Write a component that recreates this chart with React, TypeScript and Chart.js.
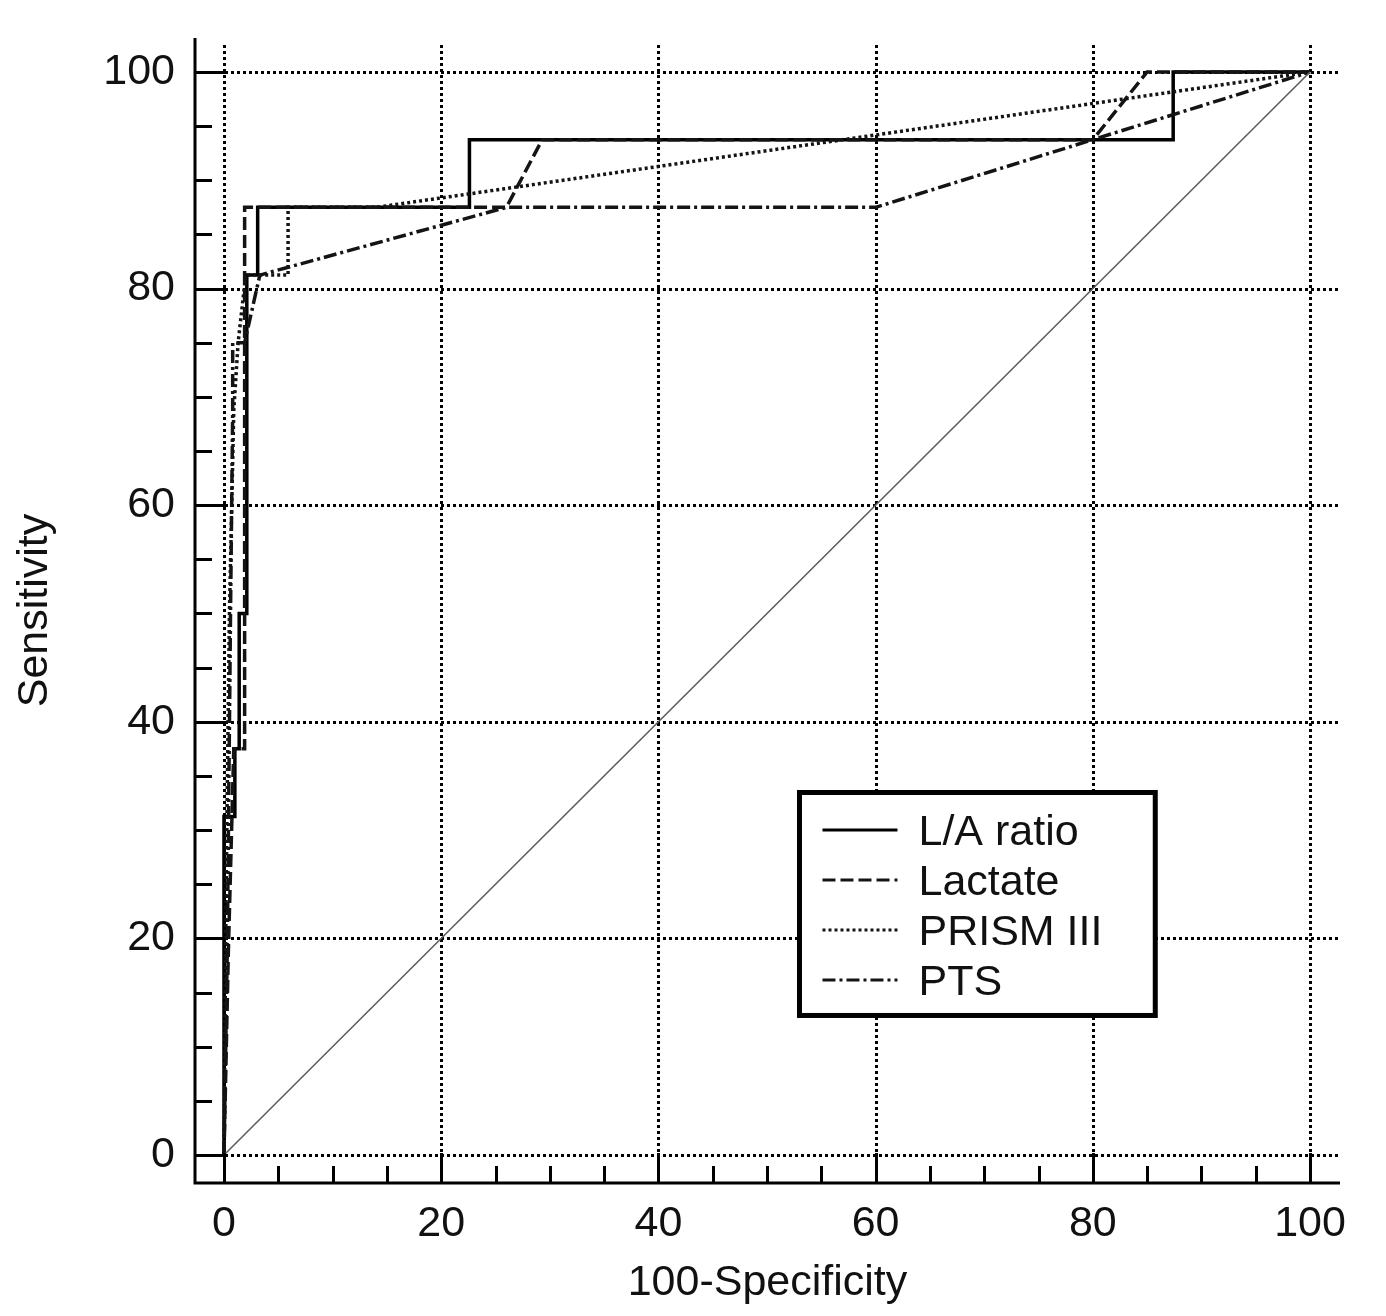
import React, { useEffect, useRef } from "react";
import { Chart, registerables } from "chart.js";

Chart.register(...registerables);

// ---- data (100-Specificity, Sensitivity) ----
const seriesNames = ["L/A ratio", "Lactate", "PRISM III", "PTS"];

const laX = [0, 0, 1.0, 1.0, 1.4, 1.4, 2.1, 2.1, 3.1, 3.1, 22.6, 22.6, 87.4, 87.4, 100];
const laY = [0, 31.25, 31.25, 37.5, 37.5, 50, 50, 81.25, 81.25, 87.5, 87.5, 93.75, 93.75, 100, 100];

const lacX = [0, 0.4, 0.9, 1.9, 1.9, 26, 29.3, 80, 85, 100];
const lacY = [0, 18.75, 37.5, 37.5, 87.5, 87.5, 93.75, 93.75, 100, 100];

const prismX = [0, 0.2, 0.5, 0.9, 1.3, 2.0, 5.9, 5.9, 14, 100];
const prismY = [0, 25, 50, 68.75, 75, 81.25, 81.25, 87.5, 87.5, 100];

const ptsX = [0, 0.3, 0.6, 0.8, 0.8, 1.9, 3.3, 26, 60, 80, 100];
const ptsY = [0, 18.75, 50, 68.75, 75, 75, 81.25, 87.5, 87.5, 93.75, 100];

const refX = [0, 100];
const refY = [0, 100];

const majorTicks = [0, 20, 40, 60, 80, 100];
const minorTicks = [0, 5, 10, 15, 20, 25, 30, 35, 40, 45, 50, 55, 60, 65, 70, 75, 80, 85, 90, 95, 100];

const xTitle = "100-Specificity";
const yTitle = "Sensitivity";

const FONT = '"Liberation Sans", Arial, Helvetica, sans-serif';

const styles = [
  { color: "#000000", dash: [] as number[], width: 3.5 },
  { color: "#141414", dash: [13, 5], width: 3.5 },
  { color: "#141414", dash: [3, 3], width: 3.5 },
  { color: "#141414", dash: [13, 4, 3, 4], width: 3.5 },
];

const toPts = (xs: number[], ys: number[]) => xs.map((x, i) => ({ x, y: ys[i] }));

export default function App() {
  const ref = useRef<HTMLCanvasElement>(null);

  useEffect(() => {
    const canvas = ref.current;
    if (!canvas) return;

    const axesPlugin = {
      id: "rocAxes",
      beforeDatasetsDraw(chart: any) {
        const { ctx, chartArea } = chart;
        const xs = chart.scales.x;
        const ys = chart.scales.y;
        ctx.save();
        ctx.strokeStyle = "#000";
        ctx.lineWidth = 3;
        ctx.setLineDash([3, 3]);
        for (const v of majorTicks) {
          const px = Math.round(xs.getPixelForValue(v)) + 0.5;
          ctx.beginPath();
          ctx.moveTo(px, chartArea.top + 7);
          ctx.lineTo(px, chartArea.bottom);
          ctx.stroke();
          const py = Math.round(ys.getPixelForValue(v)) + 0.5;
          ctx.beginPath();
          ctx.moveTo(chartArea.left, py);
          ctx.lineTo(chartArea.right, py);
          ctx.stroke();
        }
        ctx.restore();
      },
      afterDatasetsDraw(chart: any) {
        const { ctx, chartArea } = chart;
        const xs = chart.scales.x;
        const ys = chart.scales.y;
        ctx.save();
        ctx.strokeStyle = "#000";
        ctx.setLineDash([]);
        ctx.lineWidth = 3;
        // spines
        ctx.beginPath();
        ctx.moveTo(chartArea.left, chartArea.top);
        ctx.lineTo(chartArea.left, chartArea.bottom);
        ctx.lineTo(chartArea.right, chartArea.bottom);
        ctx.stroke();
        // ticks (inward)
        for (const v of minorTicks) {
          const len = majorTicks.includes(v) ? 30 : 17;
          const py = Math.round(ys.getPixelForValue(v)) + 0.5;
          ctx.beginPath();
          ctx.moveTo(chartArea.left, py);
          ctx.lineTo(chartArea.left + len, py);
          ctx.stroke();
          const px = Math.round(xs.getPixelForValue(v)) + 0.5;
          ctx.beginPath();
          ctx.moveTo(px, chartArea.bottom);
          ctx.lineTo(px, chartArea.bottom - len);
          ctx.stroke();
        }
        // legend
        const bx0 = xs.getPixelForValue(52.99);
        const bx1 = xs.getPixelForValue(85.75);
        const by0 = ys.getPixelForValue(33.47);
        const by1 = ys.getPixelForValue(12.88);
        ctx.fillStyle = "#fff";
        ctx.fillRect(bx0, by0, bx1 - bx0, by1 - by0);
        ctx.lineWidth = 5;
        ctx.strokeRect(bx0, by0, bx1 - bx0, by1 - by0);
        ctx.font = `43px ${FONT}`;
        ctx.textBaseline = "alphabetic";
        ctx.textAlign = "left";
        ctx.fillStyle = "#111";
        seriesNames.forEach((name, i) => {
          const yLine = by0 + 37.5 + i * 50;
          const st = styles[i];
          ctx.strokeStyle = st.color;
          ctx.lineWidth = 3;
          ctx.setLineDash(st.dash);
          ctx.beginPath();
          ctx.moveTo(bx0 + 23, yLine);
          ctx.lineTo(bx0 + 98, yLine);
          ctx.stroke();
          ctx.setLineDash([]);
          ctx.fillText(name, bx0 + 119, yLine + 15);
        });
        ctx.restore();
      },
    };

    const mk = (i: number, xs: number[], ys: number[]) => ({
      label: seriesNames[i],
      data: toPts(xs, ys),
      showLine: true,
      pointRadius: 0,
      borderColor: styles[i].color,
      borderWidth: styles[i].width,
      borderDash: styles[i].dash,
      tension: 0,
      fill: false,
    });

    const chart = new Chart(canvas, {
      type: "scatter",
      data: {
        datasets: [
          {
            label: "reference",
            data: toPts(refX, refY),
            showLine: true,
            pointRadius: 0,
            borderColor: "#5e5e5e",
            borderWidth: 1.6,
            tension: 0,
            fill: false,
          },
          mk(3, ptsX, ptsY),
          mk(2, prismX, prismY),
          mk(1, lacX, lacY),
          mk(0, laX, laY),
        ],
      },
      options: {
        responsive: false,
        devicePixelRatio: 1,
        animation: false,
        events: [],
        layout: { padding: { top: 38, right: 46, left: 0, bottom: 0 } },
        plugins: { legend: { display: false }, tooltip: { enabled: false } },
        scales: {
          x: {
            type: "linear",
            min: -2.67,
            max: 102.76,
            grid: { display: false, drawTicks: false, tickLength: 0 },
            border: { display: false },
            afterBuildTicks: (s: any) => {
              s.ticks = majorTicks.map((v) => ({ value: v }));
            },
            afterFit: (s: any) => {
              s.height = 133;
              s.paddingLeft = 0;
              s.paddingRight = 0;
            },
            ticks: {
              color: "#111",
              font: { family: FONT, size: 43 },
              padding: 15,
              maxRotation: 0,
              callback: (v: any) => String(v),
            },
            title: {
              display: true,
              text: xTitle,
              color: "#111",
              font: { family: FONT, size: 43 },
              padding: { top: 0, bottom: 7 },
            },
          },
          y: {
            type: "linear",
            min: -2.59,
            max: 103.14,
            grid: { display: false, drawTicks: false, tickLength: 0 },
            border: { display: false },
            afterBuildTicks: (s: any) => {
              s.ticks = majorTicks.map((v) => ({ value: v }));
            },
            afterFit: (s: any) => {
              s.width = 195;
              s.paddingTop = 0;
              s.paddingBottom = 0;
            },
            ticks: {
              color: "#111",
              font: { family: FONT, size: 43 },
              padding: 20,
              callback: (v: any) => String(v),
            },
            title: {
              display: true,
              text: yTitle,
              color: "#111",
              font: { family: FONT, size: 43 },
              padding: { top: 9, bottom: 0 },
            },
          },
        },
      },
      plugins: [axesPlugin],
    } as any);

    return () => chart.destroy();
  }, []);

  return (
    <div style={{ position: "fixed", left: 0, top: 0, width: 1386, height: 1316, background: "#fff" }}>
      <canvas ref={ref} width={1386} height={1316} style={{ display: "block", width: 1386, height: 1316 }} />
    </div>
  );
}
